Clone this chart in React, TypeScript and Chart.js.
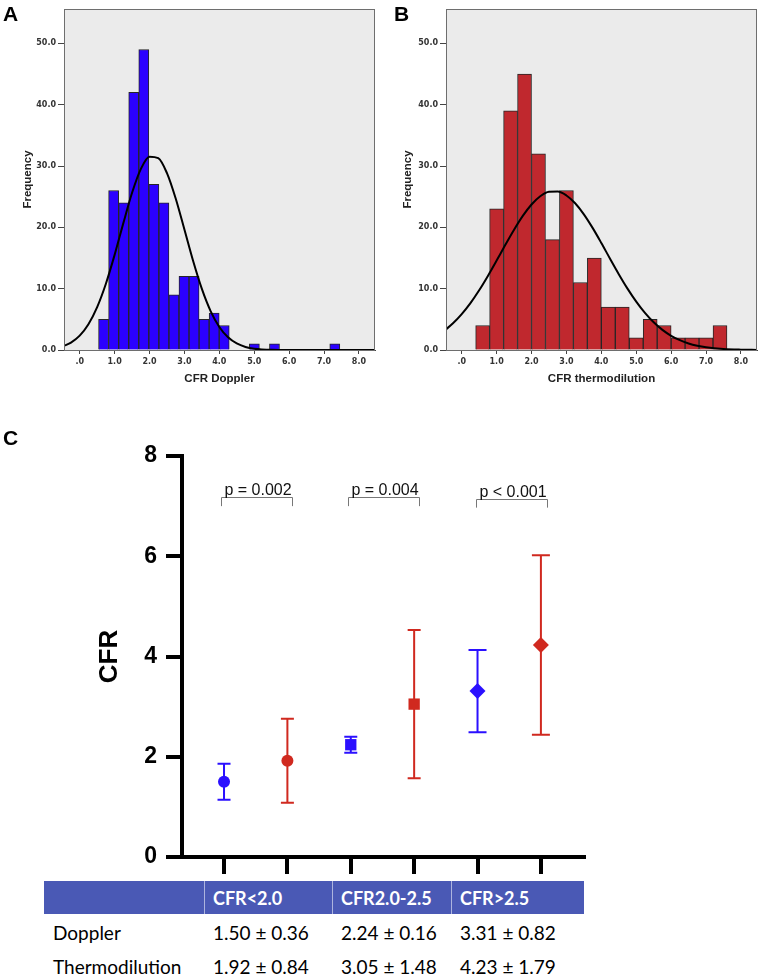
import React, { useEffect, useRef } from 'react';
import { Chart, registerables } from 'chart.js';
Chart.register(...registerables);

// ---------- Panel A: CFR Doppler histogram ----------
const dopplerBinCenters = [0.684, 0.972, 1.26, 1.548, 1.836, 2.124, 2.412, 2.7, 2.988, 3.276, 3.564, 3.852, 4.14, 4.428, 4.716, 5.004, 5.292, 5.58, 5.868, 6.156, 6.444, 6.732, 7.02, 7.308];
const dopplerCounts = [5, 26, 24, 42, 49, 27, 24, 9, 12, 12, 5, 6, 4, 0, 0, 1, 0, 1, 0, 0, 0, 0, 0, 1];
const dopplerCurveX = [-0.45, -0.25, 0, 0.25, 0.5, 0.75, 1.0, 1.25, 1.5, 1.75, 2.0, 2.25, 2.5, 2.75, 3.0, 3.25, 3.5, 3.75, 4.0, 4.25, 4.5, 4.75, 5.0, 5.5, 6.0, 7.0, 8.46];
const dopplerCurveY = [0.68, 1.21, 2.34, 4.2, 6.99, 10.8, 15.51, 20.69, 25.63, 29.49, 31.51, 31.28, 28.84, 24.7, 19.64, 14.51, 9.96, 6.35, 3.76, 2.07, 1.06, 0.5, 0.22, 0.03, 0, 0, 0];

// ---------- Panel B: CFR thermodilution histogram ----------
const thermoBinCenters = [0.6, 1.0, 1.4, 1.8, 2.2, 2.6, 3.0, 3.4, 3.8, 4.2, 4.6, 5.0, 5.4, 5.8, 6.2, 6.6, 7.0, 7.4];
const thermoCounts = [4, 23, 39, 45, 32, 18, 26, 11, 15, 7, 7, 2, 5, 4, 2, 2, 2, 4];
const thermoCurveX = [-0.45, -0.25, 0, 0.25, 0.5, 0.75, 1.0, 1.25, 1.5, 1.75, 2.0, 2.25, 2.5, 2.75, 3.0, 3.25, 3.5, 3.75, 4.0, 4.25, 4.5, 4.75, 5.0, 5.25, 5.5, 5.75, 6.0, 6.25, 6.5, 6.75, 7.0, 7.5, 8.0, 8.46];
const thermoCurveY = [3.37, 4.35, 5.85, 7.65, 9.74, 12.08, 14.58, 17.15, 19.62, 21.87, 23.73, 25.07, 25.79, 25.83, 25.19, 23.92, 22.12, 19.91, 17.45, 14.88, 12.37, 10.01, 7.89, 6.05, 4.51, 3.28, 2.32, 1.6, 1.07, 0.7, 0.45, 0.17, 0.06, 0.02];

const histXTicks = [0, 1, 2, 3, 4, 5, 6, 7, 8];
const histXLabels = ['.0', '1.0', '2.0', '3.0', '4.0', '5.0', '6.0', '7.0', '8.0'];
const histYTicks = [0, 10, 20, 30, 40, 50];
const histYLabels = ['0.0', '10.0', '20.0', '30.0', '40.0', '50.0'];

// ---------- Panel C: CFR by group ----------
const groupNames = ['CFR<2.0', 'CFR2.0-2.5', 'CFR>2.5'];
const dopplerX = [0, 2, 4];
const thermoX = [1, 3, 5];
const dopplerMean = [1.5, 2.24, 3.31];
const dopplerSD = [0.36, 0.16, 0.82];
const thermoMean = [1.92, 3.05, 4.23];
const thermoSD = [0.84, 1.48, 1.79];
const cfrYTicks = [0, 2, 4, 6, 8];
const pLabels = ['p = 0.002', 'p = 0.004', 'p < 0.001'];
const bracketStart = [-0.05, 1.95, 3.97];
const bracketEnd = [1.07, 3.07, 5.09];
const bracketTop = [7.18, 7.18, 7.15];
const bracketBottom = [7.0, 7.0, 6.97];

const BLUE = '#2b10ff';
const RED = '#d0291f';
const ARIAL = '"Liberation Sans", Arial, sans-serif';
const SMALL = '"DejaVu Sans", Verdana, sans-serif';
const markerStyles = ['circle', 'rect', 'rectRot'];
const markerRadius = [6, 8, 8];
const capHalf = [6.5, 6.5, 9];

const framePlugin = {
  id: 'frame',
  beforeDraw(chart: any) {
    const { ctx, chartArea: a } = chart;
    ctx.save();
    ctx.fillStyle = '#ebebeb';
    ctx.fillRect(a.left, a.top, a.right - a.left, a.bottom - a.top);
    ctx.restore();
  },
  afterDraw(chart: any) {
    const { ctx, chartArea: a } = chart;
    ctx.save();
    ctx.strokeStyle = '#6e6e6e';
    ctx.lineWidth = 1;
    ctx.strokeRect(Math.round(a.left) + 0.5, Math.round(a.top) + 0.5, Math.round(a.right - a.left) - 1, Math.round(a.bottom - a.top));
    ctx.restore();
  },
};

function histConfig(centers: number[], counts: number[], cx: number[], cy: number[], color: string, xTitle: string, yWidth: number, padRight: number): any {
  return {
    type: 'bar',
    data: {
      datasets: [
        {
          type: 'line',
          data: cx.map((x, i) => ({ x, y: cy[i] })),
          borderColor: '#000',
          borderWidth: 2,
          pointRadius: 0,
          fill: false,
          cubicInterpolationMode: 'monotone',
          order: 0,
        },
        {
          type: 'bar',
          data: centers.map((x, i) => ({ x, y: counts[i] > 0 ? counts[i] : null })),
          backgroundColor: color,
          borderColor: '#262626',
          borderWidth: 1,
          barPercentage: 1,
          categoryPercentage: 1,
          order: 1,
        },
      ],
    },
    options: {
      animation: false,
      responsive: false,
      maintainAspectRatio: false,
      layout: { padding: { left: 0, right: padRight, top: 9, bottom: 0 } },
      plugins: { legend: { display: false }, tooltip: { enabled: false } },
      scales: {
        x: {
          type: 'linear',
          min: -0.45,
          max: 8.46,
          offset: false,
          afterBuildTicks: (s: any) => { s.ticks = histXTicks.map((v) => ({ value: v })); },
          afterFit: (s: any) => { s.height = 50; },
          ticks: {
            autoSkip: false,
            maxRotation: 0,
            padding: 3,
            color: '#333',
            font: { family: SMALL, size: 8, weight: 'bold' },
            callback: (_v: any, i: number) => histXLabels[i],
          },
          grid: { display: true, drawOnChartArea: false, offset: false, tickLength: 4, color: '#444' },
          border: { color: '#444' },
          title: { display: true, text: xTitle, color: '#222', font: { family: ARIAL, size: 11.5, weight: 'bold' }, padding: { top: 0, bottom: 14 } },
        },
        y: {
          min: 0,
          max: 55.6,
          afterBuildTicks: (s: any) => { s.ticks = histYTicks.map((v) => ({ value: v })); },
          afterFit: (s: any) => { s.width = yWidth; },
          ticks: {
            padding: 2,
            color: '#333',
            font: { family: SMALL, size: 8, weight: 'bold' },
            callback: (_v: any, i: number) => histYLabels[i],
          },
          grid: { display: true, drawOnChartArea: false, tickLength: 6, color: '#444' },
          border: { color: '#444' },
          title: { display: true, text: 'Frequency', color: '#222', font: { family: ARIAL, size: 11.5, weight: 'bold' }, padding: { top: 21, bottom: 0 } },
        },
      },
    },
    plugins: [framePlugin],
  };
}

const errorPlugin = {
  id: 'errorBars',
  beforeDatasetsDraw(chart: any) {
    const { ctx, scales } = chart;
    const x = scales.x, y = scales.y;
    const series = [
      { xs: dopplerX, m: dopplerMean, sd: dopplerSD, color: BLUE },
      { xs: thermoX, m: thermoMean, sd: thermoSD, color: RED },
    ];
    ctx.save();
    ctx.lineWidth = 2;
    series.forEach((s) => s.xs.forEach((xv, i) => {
      const px = x.getPixelForValue(xv);
      const yt = y.getPixelForValue(s.m[i] + s.sd[i]);
      const yb = y.getPixelForValue(s.m[i] - s.sd[i]);
      const cw = capHalf[i];
      ctx.strokeStyle = s.color;
      ctx.beginPath();
      ctx.moveTo(px, yt); ctx.lineTo(px, yb);
      ctx.moveTo(px - cw, yt); ctx.lineTo(px + cw, yt);
      ctx.moveTo(px - cw, yb); ctx.lineTo(px + cw, yb);
      ctx.stroke();
    }));
    ctx.restore();
  },
  afterDraw(chart: any) {
    const { ctx, scales } = chart;
    const x = scales.x, y = scales.y;
    ctx.save();
    pLabels.forEach((label, i) => {
      const x0 = Math.round(x.getPixelForValue(bracketStart[i])) + 0.5;
      const x1 = Math.round(x.getPixelForValue(bracketEnd[i])) + 0.5;
      const yt = Math.round(y.getPixelForValue(bracketTop[i])) + 0.5;
      const yb = y.getPixelForValue(bracketBottom[i]);
      ctx.strokeStyle = '#777';
      ctx.lineWidth = 1;
      ctx.beginPath();
      ctx.moveTo(x0, yb); ctx.lineTo(x0, yt); ctx.lineTo(x1, yt); ctx.lineTo(x1, yb);
      ctx.stroke();
      ctx.fillStyle = '#111';
      ctx.font = `16px ${ARIAL}`;
      ctx.textAlign = 'center';
      ctx.textBaseline = 'alphabetic';
      ctx.fillText(label, (x0 + x1) / 2 + 1, yt - 2.5);
    });
    ctx.restore();
  },
};

function cfrConfig(): any {
  return {
    type: 'scatter',
    data: {
      datasets: [
        {
          label: 'Doppler',
          data: dopplerX.map((x, i) => ({ x, y: dopplerMean[i] })),
          pointStyle: markerStyles,
          pointRadius: markerRadius,
          backgroundColor: BLUE,
          borderColor: BLUE,
          borderWidth: 0,
        },
        {
          label: 'Thermodilution',
          data: thermoX.map((x, i) => ({ x, y: thermoMean[i] })),
          pointStyle: markerStyles,
          pointRadius: markerRadius,
          backgroundColor: RED,
          borderColor: RED,
          borderWidth: 0,
        },
      ],
    },
    options: {
      animation: false,
      responsive: false,
      maintainAspectRatio: false,
      layout: { padding: { left: 0, right: 36, top: 56, bottom: 0 } },
      plugins: { legend: { display: false }, tooltip: { enabled: false } },
      scales: {
        x: {
          type: 'linear',
          min: -0.663,
          max: 5.68,
          afterBuildTicks: (s: any) => { s.ticks = [...dopplerX, ...thermoX].sort((a, b) => a - b).map((v) => ({ value: v })); },
          afterFit: (s: any) => { s.height = 23; },
          ticks: { display: false },
          grid: { display: true, drawOnChartArea: false, tickLength: 17, lineWidth: 4, tickWidth: 4, color: '#000', tickColor: '#000' },
          border: { width: 4, color: '#000' },
        },
        y: {
          min: 0,
          max: 8,
          afterBuildTicks: (s: any) => { s.ticks = cfrYTicks.map((v) => ({ value: v })); },
          afterFit: (s: any) => { s.width = 182; },
          ticks: { padding: 9, color: '#000', font: { family: ARIAL, size: 23, weight: 'bold' } },
          grid: { display: true, drawOnChartArea: false, tickLength: 16, lineWidth: 4, tickWidth: 4, color: '#000', tickColor: '#000' },
          border: { width: 4, color: '#000' },
          title: { display: true, text: 'CFR', color: '#000', font: { family: ARIAL, size: 26, weight: 'bold' }, padding: { top: 94, bottom: 0 } },
        },
      },
    },
    plugins: [errorPlugin],
  };
}

const letterStyle = (left: number, top: number): React.CSSProperties => ({
  position: 'absolute', left, top, fontFamily: ARIAL, fontWeight: 'bold', fontSize: 21, lineHeight: '21px', color: '#000',
});

const TABLE_FONT = 'Lato, "Open Sans", sans-serif';
const cellLefts = [44, 204, 332, 451];
const cellRights = [204, 332, 451, 584];

export default function App() {
  const refA = useRef<HTMLCanvasElement>(null);
  const refB = useRef<HTMLCanvasElement>(null);
  const refC = useRef<HTMLCanvasElement>(null);

  useEffect(() => {
    const charts: Chart[] = [];
    if (refA.current) charts.push(new Chart(refA.current, histConfig(dopplerBinCenters, dopplerCounts, dopplerCurveX, dopplerCurveY, '#2b00ff', 'CFR Doppler', 64, 5)));
    if (refB.current) charts.push(new Chart(refB.current, histConfig(thermoBinCenters, thermoCounts, thermoCurveX, thermoCurveY, '#c0282e', 'CFR thermodilution', 66, 2)));
    if (refC.current) charts.push(new Chart(refC.current, cfrConfig()));
    return () => charts.forEach((c) => c.destroy());
  }, []);

  const rows = [
    { name: 'Doppler', m: dopplerMean, sd: dopplerSD, top: 922 },
    { name: 'Thermodilution', m: thermoMean, sd: thermoSD, top: 956 },
  ];

  return (
    <div style={{ position: 'absolute', left: 0, top: 0, width: 759, height: 980, background: '#fff', overflow: 'hidden' }}>
      <canvas ref={refA} width={380} height={400} style={{ position: 'absolute', left: 0, top: 0, width: 380, height: 400 }} />
      <canvas ref={refB} width={379} height={400} style={{ position: 'absolute', left: 380, top: 0, width: 379, height: 400 }} />
      <canvas ref={refC} width={620} height={480} style={{ position: 'absolute', left: 0, top: 400, width: 620, height: 480 }} />
      <div style={letterStyle(3, 3)}>A</div>
      <div style={letterStyle(394, 3)}>B</div>
      <div style={letterStyle(3, 427)}>C</div>
      {/* table header */}
      <div style={{ position: 'absolute', left: 44, top: 881, width: 540, height: 33, background: '#4a59b5' }} />
      {cellLefts.slice(1).map((l) => (
        <div key={l} style={{ position: 'absolute', left: l, top: 881, width: 1, height: 33, background: 'rgba(255,255,255,0.55)' }} />
      ))}
      {groupNames.map((g, i) => (
        <div key={g} style={{ position: 'absolute', left: cellLefts[i + 1] + 9, top: 881, height: 33, width: cellRights[i + 1] - cellLefts[i + 1] - 9, display: 'flex', alignItems: 'center', color: '#fff', fontFamily: TABLE_FONT, fontWeight: 'bold', fontSize: 18, whiteSpace: 'nowrap' }}>{g}</div>
      ))}
      {rows.map((r) => (
        <React.Fragment key={r.name}>
          <div style={{ position: 'absolute', left: 53, top: r.top, fontFamily: TABLE_FONT, fontSize: 19, lineHeight: 1.2, color: '#000', whiteSpace: 'nowrap' }}>{r.name}</div>
          {r.m.map((m, i) => (
            <div key={i} style={{ position: 'absolute', left: cellLefts[i + 1] + 9, top: r.top, fontFamily: TABLE_FONT, fontSize: 19, lineHeight: 1.2, color: '#000', whiteSpace: 'nowrap' }}>{`${m.toFixed(2)} ± ${r.sd[i].toFixed(2)}`}</div>
          ))}
        </React.Fragment>
      ))}
    </div>
  );
}
